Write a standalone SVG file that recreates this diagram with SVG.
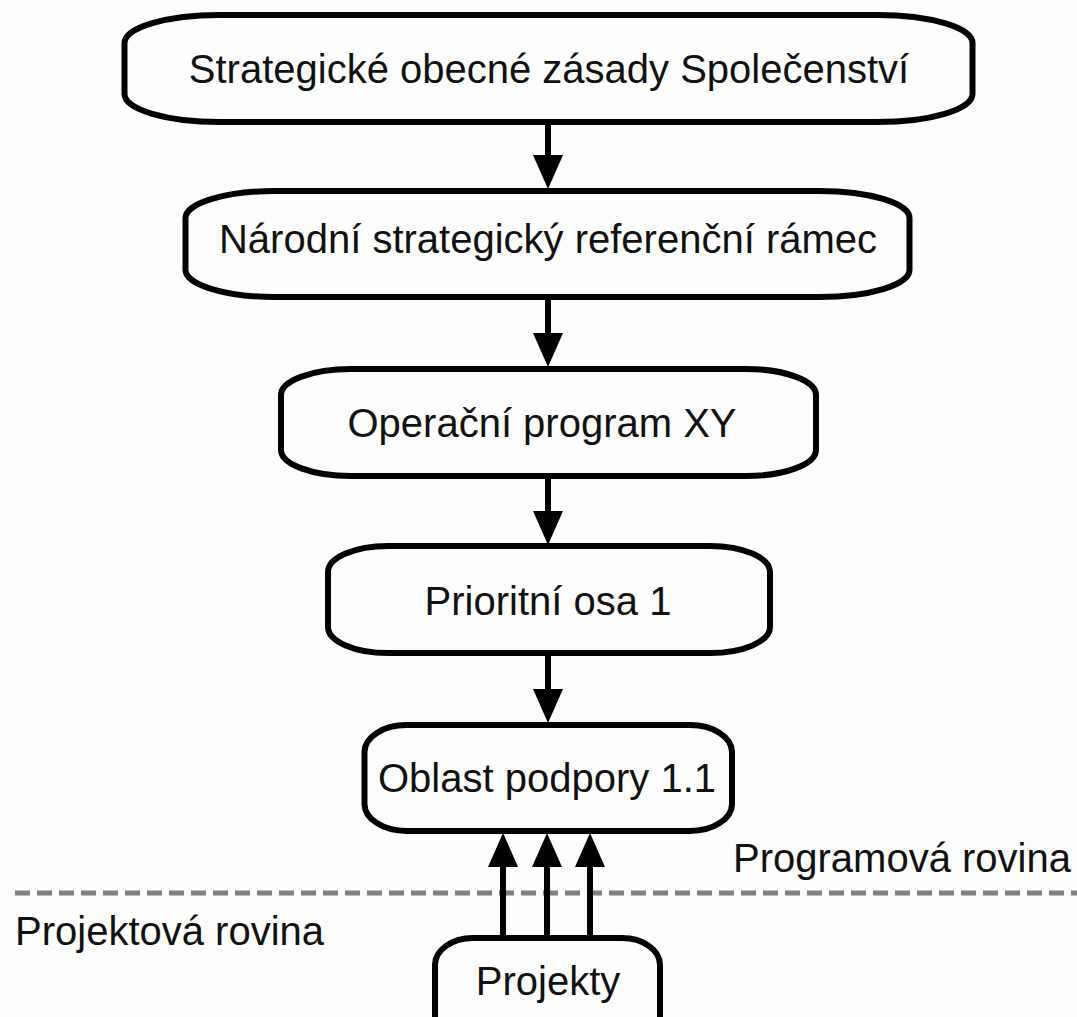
<svg xmlns="http://www.w3.org/2000/svg" width="1077" height="1017" viewBox="0 0 1077 1017">
  <style>
    .box { fill: #fcfdfc; stroke: #000; stroke-width: 6; }
    .lbl { font-family: "Liberation Sans", Arial, sans-serif; font-size: 40px; fill: #111; text-anchor: middle; }
    .side { font-family: "Liberation Sans", Arial, sans-serif; font-size: 40px; fill: #111; }
    .conn { stroke: #000; stroke-width: 6; fill: none; marker-end: url(#ah); }
    .sep { stroke: #808080; stroke-width: 5; stroke-dasharray: 15 7; fill: none; }
  </style>
  <defs>
    <marker id="ah" markerUnits="userSpaceOnUse" markerWidth="34" markerHeight="30" viewBox="0 0 34 30" refX="10" refY="15" orient="auto">
      <path d="M0,0 L34,15 L0,30 Z" fill="#000"/>
    </marker>
  </defs>
  <rect width="1077" height="1017" fill="#fcfdfc"/>

  <g id="separator">
    <line class="sep" x1="15" y1="893" x2="1077" y2="893"/>
    <text class="side" x="733" y="872">Programová rovina</text>
    <text class="side" x="15" y="945">Projektová rovina</text>
  </g>

  <g id="connectors">
    <line class="conn" x1="548" y1="122" x2="548" y2="165"/>
    <line class="conn" x1="548" y1="297" x2="548" y2="343"/>
    <line class="conn" x1="548" y1="476" x2="548" y2="521"/>
    <line class="conn" x1="548" y1="653" x2="548" y2="699"/>
    <line class="conn" x1="503" y1="938" x2="503" y2="857"/>
    <line class="conn" x1="547" y1="938" x2="547" y2="857"/>
    <line class="conn" x1="590" y1="938" x2="590" y2="857"/>
  </g>

  <g id="node-strategicke">
    <rect class="box" x="124.5" y="15" width="848" height="107" rx="95" ry="28"/>
    <text class="lbl" x="549" y="83">Strategické obecné zásady Společenství</text>
  </g>
  <g id="node-narodni">
    <rect class="box" x="185.5" y="191" width="724" height="106" rx="90" ry="27"/>
    <text class="lbl" x="548" y="253">Národní strategický referenční rámec</text>
  </g>
  <g id="node-operacni">
    <rect class="box" x="281" y="369" width="535" height="107" rx="70" ry="26"/>
    <text class="lbl" x="542" y="437">Operační program XY</text>
  </g>
  <g id="node-prioritni">
    <rect class="box" x="328" y="546" width="442" height="107" rx="60" ry="26"/>
    <text class="lbl" x="548" y="615">Prioritní osa 1</text>
  </g>
  <g id="node-oblast">
    <rect class="box" x="364.5" y="725" width="367.5" height="106" rx="42" ry="27"/>
    <text class="lbl" x="547" y="792">Oblast podpory 1.1</text>
  </g>
  <g id="node-projekty">
    <rect class="box" x="435" y="938" width="225" height="106" rx="38" ry="27"/>
    <text class="lbl" x="548" y="995">Projekty</text>
  </g>
</svg>
